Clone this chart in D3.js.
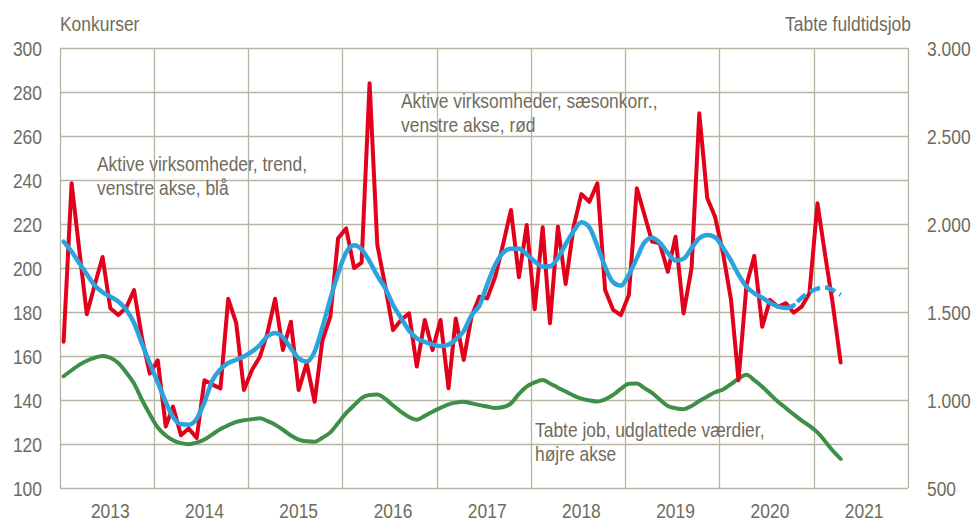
<!DOCTYPE html>
<html>
<head>
<meta charset="utf-8">
<script src="https://cdn.jsdelivr.net/npm/d3@7"></script>
<style>
  html, body { margin: 0; padding: 0; background: #fff; }
  svg text { font-family: "Liberation Sans", Arial, sans-serif; font-size: 20.5px; fill: #6f6c5d; }
</style>
</head>
<body>
<div id="chart"></div>
<script>
// monthly data, Jan 2013 - Apr 2021
var startMonth = new Date(2013, 0, 1),
	endMonth = new Date(2021, 4, 1);

// Konkurser, aktive virksomheder, saesonkorrigeret (left axis)
var bankrupt = [166.5, 238.5, 210, 179, 192, 205, 181.7, 178.6, 182, 190, 168, 152,
	158, 128, 137, 124, 127, 122.7, 149, 147, 145.3, 186, 175, 144.5,
	153.6, 159.7, 170, 186, 162.7, 175.6, 144.5, 156.7, 139.2, 167, 178, 213.5,
	218, 200, 202.4, 284, 210.5, 191.5, 171.8, 176.4, 179.4, 155.2, 176.4, 162.7,
	176.4, 145.3, 177, 158.2, 177.9, 187, 186.2, 196, 211, 226.4, 195.8, 219.5,
	181.2, 218.5, 174.9, 218.8, 192.7, 218.8, 233.6, 230.1, 238.5, 190, 181, 178.6,
	187.7, 236.2, 224.8, 212, 211.2, 198.3, 214.2, 179.4, 199.9, 270.3, 231.7, 223.3,
	206.7, 185.5, 149, 192.3, 205.5, 173.3, 185.5, 182.4, 184, 179.7, 182.4, 188.5,
	229.4, 205, 184, 157];

// Konkurser, aktive virksomheder, trend (left axis)
var trend = [212, 207.5, 202.5, 197.2, 192.2, 189, 187, 184.8, 181, 175, 165.5, 156.7,
	148, 139, 132.3, 129, 128.8, 131.5, 139, 149, 154, 156.8, 158.3, 159.8,
	162, 165, 168.8, 170.5, 168.5, 163.5, 159, 157.5, 162, 173, 186, 197.5,
	207, 210.3, 208.5, 203, 196.5, 190.8, 183.2, 177.3, 171.5, 168, 166.4, 165.2,
	164.5, 165.2, 167.5, 171.3, 178.5, 183, 192.5, 201.5, 207, 208.8, 208.8, 206.3,
	203, 200.6, 200.8, 204.6, 210.8, 216.8, 220.8, 218.5, 210, 200.5, 193.5, 192,
	197, 204.5, 211.4, 213.8, 211.5, 206.8, 203.4, 204.2, 209, 213.5, 215, 214,
	209.2, 203.3, 197, 191.5, 188.5, 186.5, 184.2, 182.4, 181.8, 183, 186.5, 189,
	190.6, 191.1, 190, 187.8];
var trendDashedFrom = 93; // last months are dashed

// Tabte fuldtidsjob, udglattede vaerdier (right axis)
var lostJobs = [1135, 1169, 1198, 1223, 1240, 1250, 1240, 1210, 1156, 1094, 1000, 919,
	844, 798, 771, 755, 749, 758, 775, 805, 835, 856, 876, 885,
	891, 896, 881, 860, 831, 798, 775, 765, 763, 785, 816, 869,
	925, 970, 1011, 1029, 1031, 1006, 969, 933, 903, 888, 910, 933,
	955, 975, 985, 990, 981, 971, 963, 954, 960, 981, 1035, 1076,
	1100, 1113, 1094, 1070, 1048, 1025, 1008, 998, 991, 1004, 1029, 1063,
	1093, 1094, 1069, 1040, 1003, 966, 953, 948, 966, 994, 1020, 1044,
	1060, 1090, 1121, 1143, 1113, 1075, 1033, 990, 954, 918, 883, 853,
	816, 763, 713, 665];

var years = [2013, 2014, 2015, 2016, 2017, 2018, 2019, 2020, 2021];
var leftTicks = [100, 120, 140, 160, 180, 200, 220, 240, 260, 280, 300];
var rightTicks = [500, 1000, 1500, 2000, 2500, 3000];

var margin = {top: 48, right: 63, bottom: 34, left: 60},
	width = 971,
	height = 522,
	plotW = width - margin.left - margin.right,
	plotH = height - margin.top - margin.bottom,
	sx = 0.85; // glyphs in the original are horizontally condensed

var gridColor = '#b7b4a4';

var months = d3.timeMonth.range(startMonth, endMonth);

var x = d3.scaleTime()
	.domain([new Date(2013, 0, 1), new Date(2022, 0, 1)])
	.range([margin.left, margin.left + plotW]);
var yL = d3.scaleLinear().domain([100, 300]).range([margin.top + plotH, margin.top]);
var yR = d3.scaleLinear().domain([500, 3000]).range([margin.top + plotH, margin.top]);

var fmtDk = d3.formatLocale({decimal: ',', thousands: '.', grouping: [3], currency: ['', '']}).format(',');

function mx(i) {
	return x(d3.timeDay.offset(months[i], 14));
}

var svg = d3.select('#chart').append('svg')
	.attr('width', width)
	.attr('height', height);

function label(px, py, str, anchor) {
	svg.append('text')
		.attr('transform', 'translate(' + px + ',' + py + ') scale(' + sx + ',1)')
		.attr('text-anchor', anchor || 'start')
		.text(str);
}

// horizontal gridlines
svg.append('g').selectAll('line')
	.data(leftTicks)
	.join('line')
	.attr('x1', margin.left).attr('x2', margin.left + plotW)
	.attr('y1', function (d) { return Math.round(yL(d)) + 0.5; })
	.attr('y2', function (d) { return Math.round(yL(d)) + 0.5; })
	.attr('stroke', gridColor).attr('stroke-width', 1.3);

// vertical gridlines at year boundaries
svg.append('g').selectAll('line')
	.data(years.concat([2022]))
	.join('line')
	.attr('x1', function (d) { return Math.round(x(new Date(d, 0, 1))) + 0.5; })
	.attr('x2', function (d) { return Math.round(x(new Date(d, 0, 1))) + 0.5; })
	.attr('y1', margin.top).attr('y2', margin.top + plotH)
	.attr('stroke', gridColor).attr('stroke-width', 1.3);

// tick labels
leftTicks.forEach(function (t) {
	label(42, yL(t) + 7.5, t, 'end');
});
rightTicks.forEach(function (t) {
	label(927, yR(t) + 7.5, fmtDk(t), 'start');
});
years.forEach(function (yr) {
	label(x(new Date(yr, 6, 15)), 518, yr, 'middle');
});

label(60, 31, 'Konkurser', 'start');
label(911, 31, 'Tabte fuldtidsjob', 'end');

// series
var idx = d3.range(months.length);

var lineGreen = d3.line()
	.x(function (i) { return mx(i); })
	.y(function (i) { return yR(lostJobs[i]); })
	.curve(d3.curveMonotoneX);

var lineRed = d3.line()
	.x(function (i) { return mx(i); })
	.y(function (i) { return yL(bankrupt[i]); });

var lineBlue = d3.line()
	.x(function (i) { return mx(i); })
	.y(function (i) { return yL(trend[i]); })
	.curve(d3.curveMonotoneX);

svg.append('path')
	.attr('d', lineGreen(idx))
	.attr('fill', 'none').attr('stroke', '#3e8f47').attr('stroke-width', 4)
	.attr('stroke-linejoin', 'round').attr('stroke-linecap', 'round');

svg.append('path')
	.attr('d', lineRed(idx))
	.attr('fill', 'none').attr('stroke', '#e3001b').attr('stroke-width', 4)
	.attr('stroke-linejoin', 'round').attr('stroke-linecap', 'round');

svg.append('path')
	.attr('d', lineBlue(idx.slice(0, trendDashedFrom + 1)))
	.attr('fill', 'none').attr('stroke', '#2ba4dd').attr('stroke-width', 4.5)
	.attr('stroke-linejoin', 'round').attr('stroke-linecap', 'round');

svg.append('path')
	.attr('d', lineBlue(idx.slice(trendDashedFrom)))
	.attr('fill', 'none').attr('stroke', '#2ba4dd').attr('stroke-width', 4.5)
	.attr('stroke-dasharray', '11,5').attr('stroke-dashoffset', -5);

// annotations
label(97, 171, 'Aktive virksomheder, trend,', 'start');
label(97, 195, 'venstre akse, blå', 'start');
label(401, 108, 'Aktive virksomheder, sæsonkorr.,', 'start');
label(401, 132, 'venstre akse, rød', 'start');
label(535, 437, 'Tabte job, udglattede værdier,', 'start');
label(535, 461, 'højre akse', 'start');
</script>
</body>
</html>
